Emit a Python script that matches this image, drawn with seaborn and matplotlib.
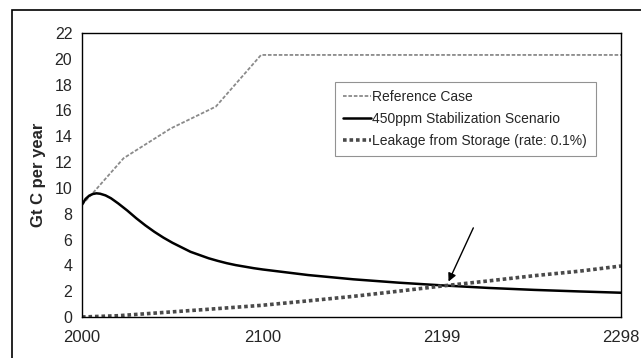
import matplotlib
matplotlib.use("Agg")
import matplotlib.pyplot as plt
from matplotlib.patches import Rectangle
import seaborn as sns

# Reference Case
ref_years = [2000, 2006, 2023, 2049, 2074, 2099, 2298]
ref_vals = [8.7, 9.6, 12.3, 14.6, 16.3, 20.3, 20.3]

# 450ppm Stabilization Scenario
stab_years = [2000, 2002, 2004, 2006, 2008, 2010, 2013, 2016, 2020, 2025, 2030, 2035,
              2040, 2045, 2050, 2055, 2060, 2065, 2070, 2075, 2080, 2085, 2090, 2095,
              2100, 2125, 2150, 2175, 2199, 2225, 2250, 2275, 2298]
stab_vals = [8.7, 9.15, 9.4, 9.53, 9.58, 9.55, 9.42, 9.2, 8.8, 8.25, 7.65, 7.1,
             6.6, 6.15, 5.75, 5.4, 5.05, 4.8, 4.55, 4.35, 4.17, 4.02, 3.9, 3.78,
             3.68, 3.25, 2.92, 2.66, 2.45, 2.25, 2.1, 1.98, 1.88]

# Leakage from Storage (rate: 0.1%)
leak_years = [2000, 2020, 2043, 2070, 2099, 2125, 2150, 2175, 2199, 2225, 2250, 2275, 2298]
leak_vals = [0.0, 0.1, 0.33, 0.6, 0.9, 1.25, 1.6, 2.0, 2.4, 2.8, 3.2, 3.55, 3.95]

x_ticks = [2000, 2100, 2199, 2298]
y_ticks = list(range(0, 23, 2))

sns.set_style("white")
plt.rcParams["font.family"] = ["Liberation Sans", "DejaVu Sans"]

fig = plt.figure(figsize=(6.41, 3.58), dpi=100)
ax = fig.add_axes([82 / 641, 1 - 317 / 358, (621 - 82) / 641, (317 - 33) / 358])

# outer chart frame (only top/left fall inside the crop)
fig.patches.append(Rectangle((12 / 641, -0.1), 1.2, 1 - 10 / 358 + 0.1,
                             transform=fig.transFigure, fill=False,
                             edgecolor="black", linewidth=1.2))

sns.lineplot(x=ref_years, y=ref_vals, ax=ax, color="#8a8a8a", linewidth=1.3,
             linestyle=(0, (2, 1)), label="Reference Case")
sns.lineplot(x=stab_years, y=stab_vals, ax=ax, color="black", linewidth=1.8,
             label="450ppm Stabilization Scenario")
sns.lineplot(x=leak_years, y=leak_vals, ax=ax, color="#4a4a4a", linewidth=2.6,
             linestyle=(0, (1, 0.8)), label="Leakage from Storage (rate: 0.1%)")

ax.annotate("", xy=(2202, 2.55), xytext=(2217, 7.1),
            arrowprops=dict(arrowstyle="-|>", color="black", lw=1.0,
                            mutation_scale=12))

ax.set_xlim(2000, 2298)
ax.set_ylim(0, 22)
ax.set_xticks(x_ticks)
ax.set_yticks(y_ticks)
ax.tick_params(axis="both", length=3, direction="out", color="#555555")
ax.tick_params(axis="x", labelsize=12, pad=7, length=2)
ax.tick_params(axis="y", labelsize=11.5, pad=4)
ax.set_xlabel("")
ax.set_ylabel("Gt C per year", fontsize=12, fontweight="bold", labelpad=6)
for sp in ax.spines.values():
    sp.set_visible(True)
    sp.set_color("black")
    sp.set_linewidth(1.0)

leg = ax.legend(loc="upper left", bbox_to_anchor=((335 - 82) / 539, (317 - 82) / 284),
                fontsize=10, frameon=True, fancybox=False, handlelength=2.0,
                handletextpad=0.1, borderpad=0.6, labelspacing=0.55,
                borderaxespad=0)
leg.get_frame().set_edgecolor("#777777")
leg.get_frame().set_linewidth(0.8)

fig.savefig("out.png", dpi=100)
